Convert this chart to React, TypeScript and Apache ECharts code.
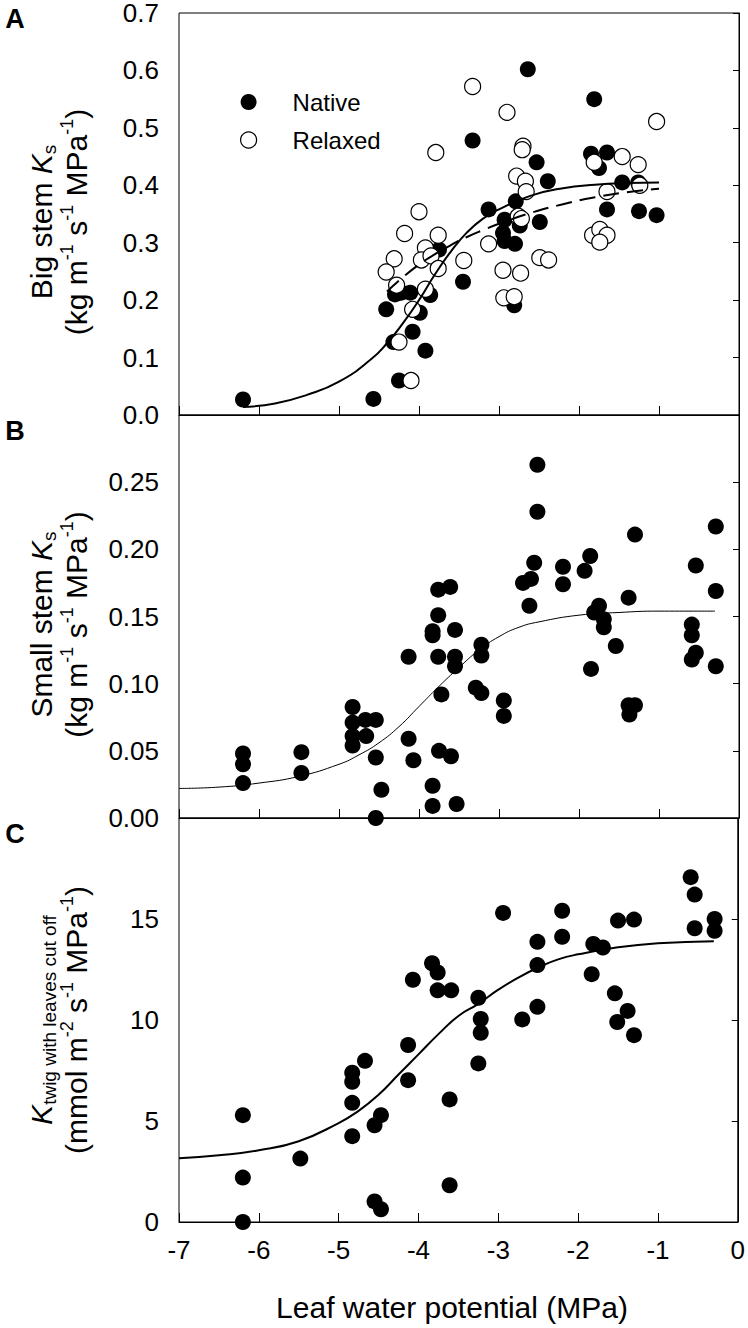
import React, { useEffect, useRef } from 'react';
import * as echarts from 'echarts';

const FONT = '"Liberation Sans", Arial, sans-serif';

// Shared x axis (leaf water potential, MPa)
const xMin = -7;
const xMax = 0;
const xStep = 1;

// Panel A: Big stem Ks
const yTicksA = { min: 0, max: 0.7, step: 0.1 };
const nativeA: number[][] = [
  [-2.64, 0.602], [-1.81, 0.55], [-3.33, 0.478], [-1.85, 0.455], [-1.65, 0.457], [-1.75, 0.43],
  [-2.53, 0.44], [-2.39, 0.407], [-1.46, 0.405], [-1.26, 0.405], [-2.79, 0.372], [-3.13, 0.358],
  [-1.65, 0.358], [-1.25, 0.355], [-1.03, 0.348], [-2.93, 0.34], [-2.49, 0.336], [-2.74, 0.33],
  [-2.95, 0.317], [-2.93, 0.303], [-2.8, 0.298], [-3.75, 0.288], [-3.45, 0.232], [-2.81, 0.191],
  [-4.3, 0.21], [-4.22, 0.213], [-4.11, 0.213], [-3.86, 0.209], [-4.41, 0.184], [-3.99, 0.178],
  [-4.08, 0.145], [-3.92, 0.112], [-4.32, 0.127], [-4.25, 0.06], [-4.57, 0.028], [-6.2, 0.027],
];
const relaxedA: number[][] = [
  [-3.33, 0.572], [-2.9, 0.527], [-1.03, 0.511], [-3.79, 0.457], [-2.7, 0.468], [-2.71, 0.462],
  [-1.46, 0.45], [-1.81, 0.44], [-1.26, 0.436], [-2.78, 0.416], [-2.67, 0.407], [-2.66, 0.389],
  [-1.65, 0.389], [-1.24, 0.4], [-4.0, 0.354], [-2.76, 0.346], [-2.72, 0.342], [-4.18, 0.316],
  [-3.76, 0.313], [-4.31, 0.272], [-4.41, 0.249], [-4.28, 0.226], [-3.92, 0.291], [-3.97, 0.27],
  [-3.85, 0.277], [-3.76, 0.255], [-3.92, 0.219], [-3.44, 0.269], [-3.13, 0.298], [-2.95, 0.252],
  [-2.73, 0.247], [-2.94, 0.204], [-2.81, 0.206], [-2.49, 0.274], [-2.38, 0.27], [-1.83, 0.313],
  [-1.74, 0.323], [-1.65, 0.313], [-1.74, 0.301], [-4.08, 0.184], [-4.25, 0.127], [-4.1, 0.06],
];
const fitNativeA: number[][] = [
  [-6.2, 0.014], [-5.8, 0.02], [-5.4, 0.035], [-5.0, 0.058], [-4.6, 0.097], [-4.4, 0.125],
  [-4.2, 0.16], [-4.0, 0.2], [-3.8, 0.245], [-3.6, 0.285], [-3.4, 0.318], [-3.2, 0.342],
  [-3.0, 0.358], [-2.6, 0.382], [-2.2, 0.395], [-1.8, 0.401], [-1.4, 0.404], [-1.0, 0.405],
];
const fitRelaxedA: number[][] = [
  [-4.4, 0.215], [-4.2, 0.24], [-4.0, 0.262], [-3.8, 0.28], [-3.6, 0.296], [-3.4, 0.31],
  [-3.2, 0.322], [-3.0, 0.333], [-2.6, 0.352], [-2.2, 0.367], [-1.8, 0.379], [-1.4, 0.388],
  [-1.0, 0.394],
];

// Panel B: Small stem Ks
const yTicksB = { min: 0, max: 0.3, step: 0.05 };
const smallStemB: number[][] = [
  [-2.52, 0.263], [-2.52, 0.228], [-1.3, 0.211], [-0.29, 0.217], [-2.56, 0.19], [-2.2, 0.187],
  [-1.86, 0.195], [-1.93, 0.184], [-0.54, 0.188], [-2.7, 0.175], [-2.6, 0.178], [-2.2, 0.174],
  [-3.76, 0.17], [-3.61, 0.172], [-0.29, 0.169], [-2.62, 0.158], [-1.38, 0.164], [-3.76, 0.151],
  [-1.75, 0.158], [-1.81, 0.153], [-1.69, 0.148], [-1.69, 0.142], [-1.54, 0.128], [-1.85, 0.111],
  [-0.59, 0.144], [-0.59, 0.136], [-0.59, 0.118], [-0.54, 0.123], [-0.29, 0.113], [-1.38, 0.084],
  [-1.3, 0.084], [-1.37, 0.077], [-3.83, 0.139], [-3.83, 0.136], [-3.55, 0.14], [-3.76, 0.12],
  [-4.13, 0.12], [-3.55, 0.12], [-3.55, 0.113], [-3.22, 0.129], [-3.22, 0.121], [-3.29, 0.097],
  [-3.22, 0.093], [-3.72, 0.092], [-2.94, 0.0875], [-2.94, 0.076], [-4.83, 0.0826], [-4.83, 0.071],
  [-4.83, 0.061], [-4.83, 0.054], [-4.67, 0.073], [-4.54, 0.073], [-4.66, 0.061], [-4.13, 0.059],
  [-4.07, 0.043], [-4.54, 0.045], [-3.75, 0.05], [-3.6, 0.046], [-4.47, 0.021], [-3.83, 0.024],
  [-3.83, 0.009], [-3.53, 0.0104], [-4.54, 0.0], [-6.2, 0.048], [-6.2, 0.04], [-6.2, 0.026],
  [-5.47, 0.049], [-5.47, 0.0335],
];
const fitB: number[][] = [
  [-7, 0.022], [-6.5, 0.023], [-6, 0.026], [-5.5, 0.031], [-5, 0.04], [-4.75, 0.047],
  [-4.5, 0.056], [-4.25, 0.068], [-4, 0.083], [-3.75, 0.098], [-3.5, 0.112], [-3.25, 0.125],
  [-3, 0.135], [-2.75, 0.142], [-2.5, 0.146], [-2, 0.151], [-1.5, 0.153], [-1, 0.154], [-0.3, 0.154],
];

// Panel C: K twig with leaves cut off
const yTicksC = { min: 0, max: 20, step: 5 };
const twigC: number[][] = [
  [-0.59, 17.07], [-0.54, 16.21], [-2.94, 15.3], [-2.2, 15.41], [-1.5, 14.92], [-1.3, 14.97],
  [-0.29, 15.0], [-0.54, 14.54], [-0.29, 14.42], [-2.51, 13.87], [-2.2, 14.12], [-1.81, 13.76],
  [-1.69, 13.59], [-2.51, 12.72], [-1.83, 12.27], [-3.83, 12.81], [-3.76, 12.35], [-4.07, 11.99],
  [-3.76, 11.47], [-3.59, 11.47], [-3.25, 11.1], [-1.54, 11.32], [-1.38, 10.45], [-2.51, 10.65],
  [-3.22, 10.05], [-2.7, 10.03], [-1.51, 9.9], [-1.3, 9.25], [-3.22, 9.37], [-3.25, 7.85],
  [-4.13, 8.76], [-4.13, 7.02], [-4.67, 7.98], [-4.83, 7.39], [-4.83, 6.94], [-4.83, 5.9],
  [-4.83, 4.25], [-3.61, 6.07], [-4.47, 5.29], [-4.55, 4.79], [-6.2, 5.29], [-5.48, 3.14],
  [-6.2, 2.2], [-3.61, 1.82], [-4.55, 1.02], [-4.47, 0.63], [-6.2, 0.0],
];
const fitC: number[][] = [
  [-7, 3.15], [-6.5, 3.3], [-6, 3.55], [-5.5, 4.0], [-5, 4.9], [-4.75, 5.5], [-4.5, 6.3],
  [-4.25, 7.3], [-4, 8.3], [-3.75, 9.3], [-3.5, 10.2], [-3.25, 10.8], [-3, 11.5], [-2.75, 12.1],
  [-2.5, 12.6], [-2.25, 13.0], [-2, 13.25], [-1.5, 13.6], [-1, 13.8], [-0.3, 13.9],
];

const legendNames = ['Native', 'Relaxed'];
const xTitle = 'Leaf water potential (MPa)';
const panelLetters = ['A', 'B', 'C'];

const GRID_LEFT = 179;
const GRID_RIGHT = 9;
const gridTops = [13, 415, 818];
const gridHeights = [402, 403, 404];

export default function App() {
  const ref = useRef<HTMLDivElement>(null);
  useEffect(() => {
    if (!ref.current) return;
    const chart = echarts.init(ref.current, null, { renderer: 'svg' });
    const black = '#000';
    const tickFont = 26;
    const yTicks = [yTicksA, yTicksB, yTicksC];
    const decimals = [1, 2, 0];

    const grid = gridTops.map((t, i) => ({
      left: GRID_LEFT, right: GRID_RIGHT, top: t, height: gridHeights[i],
      show: true, borderColor: black, borderWidth: 1, backgroundColor: 'transparent',
    }));
    const xAxis = gridTops.map((_, i) => ({
      type: 'value', gridIndex: i, min: xMin, max: xMax, interval: xStep,
      axisLine: { show: true, onZero: false, lineStyle: { color: black, width: 1 } },
      axisTick: { show: true, inside: true, length: 9, lineStyle: { color: black } },
      splitLine: { show: false },
      axisLabel: { show: i === 2, fontSize: tickFont, color: black, fontFamily: FONT, margin: 15 },
    }));
    const yAxis = yTicks.map((t, i) => ({
      type: 'value', gridIndex: i, min: t.min, max: t.max, interval: t.step,
      axisLine: { show: true, lineStyle: { color: black, width: 1 } },
      axisTick: { show: true, inside: false, length: 6, lineStyle: { color: black } },
      splitLine: { show: false },
      axisLabel: {
        fontSize: tickFont, color: black, fontFamily: FONT, margin: 20, lineHeight: 20,
        showMaxLabel: i === 0,
        formatter: (v: number) => v.toFixed(decimals[i]),
      },
    }));

    const mainRich = {
      n: { fontSize: 30, fontFamily: FONT, lineHeight: 36, fill: black, color: black },
      i: { fontSize: 30, fontFamily: FONT, fontStyle: 'italic', lineHeight: 36, fill: black, color: black },
      sub: { fontSize: 19, fontFamily: FONT, lineHeight: 6, verticalAlign: 'bottom', fill: black, color: black },
      sup: { fontSize: 18, fontFamily: FONT, lineHeight: 14, verticalAlign: 'top', fill: black, color: black },
    };
    const vText = (x: number, y: number, text: string) => ({
      type: 'text', x, y, rotation: Math.PI / 2,
      style: {
        text, rich: mainRich, fill: black, font: `30px ${FONT}`,
        align: 'center', verticalAlign: 'middle', textAlign: 'center', textVerticalAlign: 'middle',
      },
    });
    const centers = gridTops.map((t, i) => t + gridHeights[i] / 2);
    const unitsKg = '{n|(kg m}{sup|-1}{n| s}{sup|-1}{n| MPa}{sup|-1}{n|)}';
    const graphic: any[] = [
      vText(41, centers[0] + 8, '{n|Big stem }{i|K}{sub|s}'),
      vText(76, centers[0] + 8, unitsKg),
      vText(41, centers[1] + 8, '{n|Small stem }{i|K}{sub|s}'),
      vText(76, centers[1] + 8, unitsKg),
      vText(41, centers[2], '{i|K}{sub|twig with leaves cut off}'),
      vText(76, centers[2], '{n|(mmol m}{sup|-2}{n| s}{sup|-1}{n| MPa}{sup|-1}{n|)}'),
      {
        type: 'text', x: 452, y: 1307,
        style: { text: xTitle, font: `30px ${FONT}`, fill: black, align: 'center', verticalAlign: 'middle', textAlign: 'center', textVerticalAlign: 'middle' },
      },
      ...panelLetters.map((l, i) => ({
        type: 'text', x: 15, y: [19, 431, 834][i],
        style: { text: l, font: `bold 27px ${FONT}`, fill: black, align: 'center', verticalAlign: 'middle', textAlign: 'center', textVerticalAlign: 'middle' },
      })),
    ];

    const scatterBase = { type: 'scatter', symbol: 'circle', symbolSize: 16, silent: true };
    const lineBase = { type: 'line', smooth: 0.5, showSymbol: false, symbol: 'none', silent: true, z: 5 };
    const filled = { color: black, opacity: 1 };
    const open = { color: '#fff', borderColor: black, borderWidth: 1.2, opacity: 1 };

    chart.setOption({
      animation: false,
      backgroundColor: '#fff',
      grid, xAxis, yAxis, graphic,
      legend: {
        show: true, orient: 'vertical', left: 240, top: 90, padding: 0,
        itemWidth: 16, itemHeight: 16, itemGap: 14,
        icon: 'circle', selectedMode: false,
        textStyle: { fontSize: 24, fontFamily: FONT, color: black, padding: [0, 0, 0, 31] },
        data: [
          { name: legendNames[0], itemStyle: filled },
          { name: legendNames[1], itemStyle: open },
        ],
      },
      series: [
        { ...scatterBase, name: legendNames[0], xAxisIndex: 0, yAxisIndex: 0, data: nativeA, itemStyle: filled, z: 3 },
        { ...scatterBase, name: legendNames[1], xAxisIndex: 0, yAxisIndex: 0, data: relaxedA, itemStyle: open, z: 4 },
        { ...lineBase, name: 'fitNativeA', xAxisIndex: 0, yAxisIndex: 0, data: fitNativeA, lineStyle: { color: black, width: 2 } },
        { ...lineBase, name: 'fitRelaxedA', xAxisIndex: 0, yAxisIndex: 0, data: fitRelaxedA, lineStyle: { color: black, width: 2, type: [16, 8] } },
        { ...scatterBase, name: 'smallStemB', xAxisIndex: 1, yAxisIndex: 1, data: smallStemB, itemStyle: filled, z: 3 },
        { ...lineBase, name: 'fitB', xAxisIndex: 1, yAxisIndex: 1, data: fitB, lineStyle: { color: black, width: 1 } },
        { ...scatterBase, name: 'twigC', xAxisIndex: 2, yAxisIndex: 2, data: twigC, itemStyle: filled, z: 3 },
        { ...lineBase, name: 'fitC', xAxisIndex: 2, yAxisIndex: 2, data: fitC, lineStyle: { color: black, width: 2 } },
      ],
    });
    return () => chart.dispose();
  }, []);
  return <div ref={ref} style={{ position: 'absolute', left: 0, top: 0, width: 748, height: 1328 }} />;
}
